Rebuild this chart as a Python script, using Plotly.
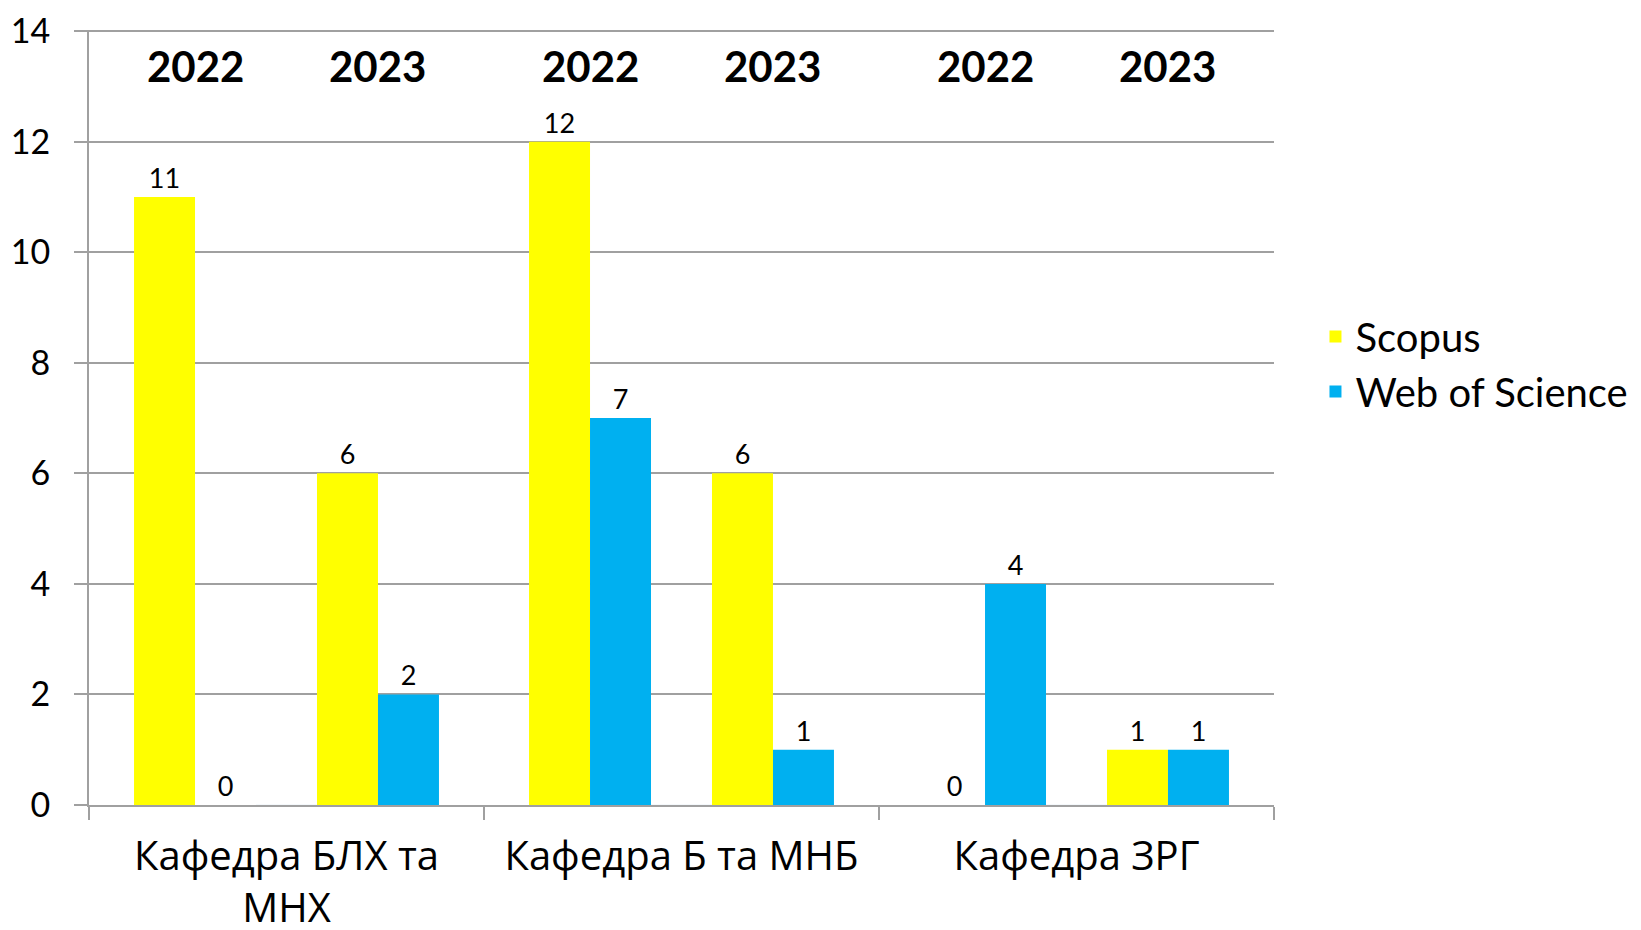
import plotly.graph_objects as go

# Departments and counts per database / year
departments = ["Кафедра БЛХ та<br>МНХ", "Кафедра Б та МНБ", "Кафедра ЗРГ"]
years = ["2022", "2023"]
scopus_2022 = [11, 12, 0]
wos_2022 = [0, 7, 4]
scopus_2023 = [6, 6, 1]
wos_2023 = [2, 1, 1]

YELLOW = "#FFFF00"
BLUE = "#00B0F0"
GRID = "#a0a0a0"
NUM_FONT = "Lato, 'Open Sans', sans-serif"
CAT_FONT = "'Open Sans', 'Noto Sans', sans-serif"

bargap = 0.228

fig = go.Figure()


def add_bars(vals, name, color, legend):
    fig.add_trace(go.Bar(
        x=departments, y=vals, name=name, legendgroup=name, showlegend=legend,
        marker=dict(color=color, line=dict(width=0)),
        text=vals, textposition="outside", cliponaxis=False,
        textfont=dict(family=NUM_FONT, size=27, color="black"),
    ))


add_bars(scopus_2022, "Scopus", YELLOW, True)
add_bars(wos_2022, "Web of Science", BLUE, True)
# empty slot separating the two years inside each department
fig.add_trace(go.Bar(x=departments, y=[0] * len(departments), showlegend=False,
                     marker=dict(color="rgba(0,0,0,0)"), hoverinfo="skip"))
add_bars(scopus_2023, "Scopus", YELLOW, False)
add_bars(wos_2023, "Web of Science", BLUE, False)

# year captions above each pair of bars
slot = (1 - bargap) / 5
for i in range(len(departments)):
    for k, yr in enumerate(years):
        off = -(1 - bargap) / 2 + slot * (1 + 3 * k)
        fig.add_annotation(x=i + off, y=13.36, xref="x", yref="y", text=f"<b>{yr}</b>",
                           showarrow=False, yanchor="middle",
                           font=dict(family=NUM_FONT, size=42, color="black"))

fig.update_layout(
    width=1641, height=930,
    margin=dict(l=81, r=375, t=22, b=133),
    plot_bgcolor="white", paper_bgcolor="white",
    barmode="group", bargap=bargap, bargroupgap=0,
    legend=dict(x=1.035, y=0.569, xanchor="left", yanchor="middle", tracegroupgap=0,
                font=dict(family=NUM_FONT, size=40, color="black")),
)
fig.update_yaxes(
    range=[0, 14.02], dtick=2, showgrid=True, gridcolor=GRID, gridwidth=2,
    showline=True, linecolor=GRID, linewidth=2, ticks="outside", ticklen=13,
    tickcolor=GRID, tickwidth=2, zeroline=False, ticklabelstandoff=17,
    automargin=False, ticklabeloverflow="allow",
    tickfont=dict(family=NUM_FONT, size=34, color="black"),
)
fig.update_xaxes(
    showline=True, linecolor=GRID, linewidth=2, ticks="outside", ticklen=13,
    tickcolor=GRID, tickwidth=2, tickson="boundaries", showgrid=False,
    automargin=False, ticklabelstandoff=15, ticklabeloverflow="allow",
    tickfont=dict(family=CAT_FONT, size=40, color="black"),
)

fig.write_html("out.html")
